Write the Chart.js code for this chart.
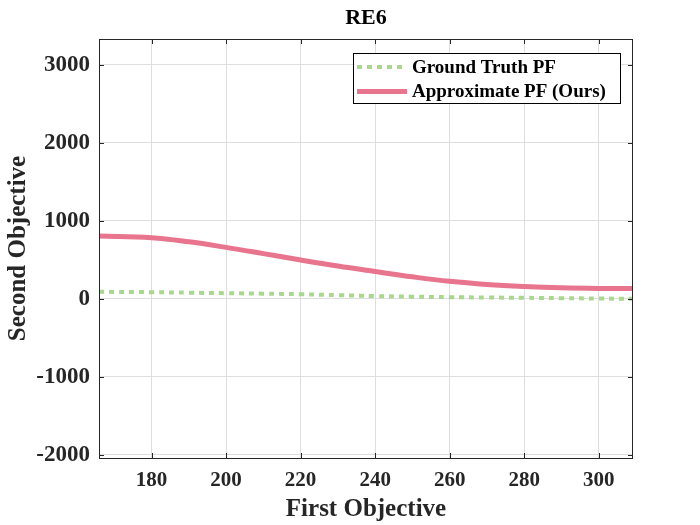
<!DOCTYPE html>
<html>
<head>
<meta charset="utf-8">
<script src="https://cdn.jsdelivr.net/npm/chart.js@4/dist/chart.umd.min.js"></script>
<style>
  html, body { margin: 0; padding: 0; background: #fff; }
  #wrap { width: 700px; height: 525px; }
</style>
</head>
<body>
<div id="wrap"><canvas id="grafico"></canvas></div>
<script>
// datos
const firstObjective = [165.9, 180, 190, 200, 210, 220, 230, 240, 250, 260, 270, 280, 290, 300, 309.2];
const approxPF      = [806, 784, 732, 660, 580, 498, 420, 350, 282, 224, 184, 158, 141, 133, 132];
const groundTruthPF = [90, 85, 79, 72, 66, 59, 47, 35, 28, 21, 17, 13, 8, 4, 0];

const xTicks = [180, 200, 220, 240, 260, 280, 300];
const yTicks = [-2000, -1000, 0, 1000, 2000, 3000];

const serif = "'Liberation Serif', 'Times New Roman', serif";
const colorRojo = '#e8748e';
const colorVerde = '#a8d98b';

const toPoints = (ys) => firstObjective.map((x, i) => ({ x: x, y: ys[i] }));

// caja, ticks interiores, titulo y leyenda estilo MATLAB
const matlabStyle = {
    id: 'matlabStyle',
    afterDraw(chart) {
        const { ctx, chartArea: a, scales } = chart;
        ctx.save();
        ctx.strokeStyle = '#262626';
        ctx.lineWidth = 1;
        ctx.strokeRect(a.left + 0.5, a.top + 0.5, a.right - a.left - 1, a.bottom - a.top);
        const t = 5;
        ctx.beginPath();
        xTicks.forEach(v => {
            const px = Math.round(scales.x.getPixelForValue(v)) + 0.5;
            ctx.moveTo(px, a.bottom); ctx.lineTo(px, a.bottom - t);
            ctx.moveTo(px, a.top); ctx.lineTo(px, a.top + t);
        });
        yTicks.forEach(v => {
            const py = Math.round(scales.y.getPixelForValue(v)) + 0.5;
            ctx.moveTo(a.left, py); ctx.lineTo(a.left + t, py);
            ctx.moveTo(a.right, py); ctx.lineTo(a.right - t, py);
        });
        ctx.stroke();

        // titulo
        ctx.fillStyle = '#000';
        ctx.font = 'bold 22px ' + serif;
        ctx.textAlign = 'center';
        ctx.textBaseline = 'middle';
        ctx.fillText('RE6', (a.left + a.right) / 2, 18);

        // leyenda
        const bx = 353, by = 53, bw = 267, bh = 50;
        ctx.fillStyle = '#fff';
        ctx.fillRect(bx, by, bw, bh);
        ctx.strokeStyle = '#000';
        ctx.strokeRect(bx + 0.5, by + 0.5, bw, bh);
        ctx.font = 'bold 19px ' + serif;
        ctx.textAlign = 'left';
        chart.data.datasets.forEach((ds, i) => {
            const y = 67 + i * 24.5;
            ctx.beginPath();
            ctx.strokeStyle = ds.borderColor;
            ctx.lineWidth = ds.borderWidth;
            ctx.setLineDash(ds.borderDash || []);
            ctx.moveTo(357, y); ctx.lineTo(407, y);
            ctx.stroke();
            ctx.setLineDash([]);
            ctx.fillStyle = '#000';
            ctx.fillText(ds.label, 412, y + 1);
        });
        ctx.restore();
    }
};

new Chart(document.getElementById('grafico').getContext('2d'), {
    type: 'line',
    data: {
        datasets: [{
            label: 'Ground Truth PF',
            data: toPoints(groundTruthPF),
            borderColor: colorVerde,
            borderWidth: 4,
            borderDash: [5, 5],
            borderCapStyle: 'butt',
            pointRadius: 0,
            tension: 0.4,
            fill: false
        }, {
            label: 'Approximate PF (Ours)',
            data: toPoints(approxPF),
            borderColor: colorRojo,
            borderWidth: 5,
            pointRadius: 0,
            tension: 0.4,
            fill: false
        }]
    },
    options: {
        responsive: true,
        maintainAspectRatio: false,
        animation: false,
        layout: { padding: { top: 39, right: 67, left: 0, bottom: 0 } },
        plugins: {
            legend: { display: false },
            title: { display: false },
            tooltip: { enabled: false }
        },
        scales: {
            x: {
                type: 'linear',
                min: 165.9,
                max: 309.2,
                afterBuildTicks: (s) => { s.ticks = xTicks.map(v => ({ value: v })); },
                afterFit: (s) => { s.height = 67; },
                grid: { color: '#dedede', drawTicks: false },
                border: { display: false },
                ticks: {
                    color: '#262626',
                    padding: 10,
                    maxRotation: 0,
                    callback: (v) => String(v),
                    font: { family: serif, size: 21, weight: 'bold' }
                },
                title: {
                    display: true,
                    text: 'First Objective',
                    color: '#262626',
                    padding: { top: 0, bottom: 0 },
                    font: { family: serif, size: 25, weight: 'bold' }
                }
            },
            y: {
                type: 'linear',
                min: -2042,
                max: 3333,
                afterBuildTicks: (s) => { s.ticks = yTicks.map(v => ({ value: v })); },
                afterFit: (s) => { s.width = 99; },
                grid: { color: '#dedede', drawTicks: false },
                border: { display: false },
                ticks: {
                    color: '#262626',
                    padding: 9,
                    callback: (v) => String(v),
                    font: { family: serif, size: 23, weight: 'bold' }
                },
                title: {
                    display: true,
                    text: 'Second Objective',
                    color: '#262626',
                    padding: { top: 4, bottom: 4 },
                    font: { family: serif, size: 25, weight: 'bold' }
                }
            }
        }
    },
    plugins: [matlabStyle]
});
</script>
</body>
</html>
